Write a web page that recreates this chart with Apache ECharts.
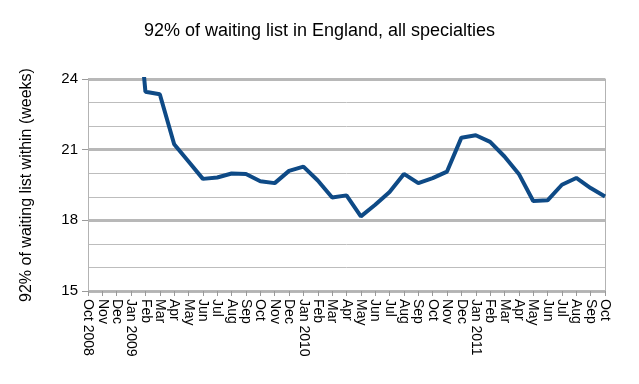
<!DOCTYPE html>
<html>
<head>
<meta charset="utf-8">
<script src="https://cdn.jsdelivr.net/npm/echarts@6/dist/echarts.min.js"></script>
<style>html,body{margin:0;padding:0;background:#fff}#c{width:639px;height:384px}</style>
</head>
<body>
<div id="c"></div>
<script>
const categories = ["Oct 2008","Nov","Dec","Jan 2009","Feb","Mar","Apr","May","Jun","Jul","Aug","Sep",
  "Oct","Nov","Dec","Jan 2010","Feb","Mar","Apr","May","Jun","Jul","Aug","Sep",
  "Oct","Nov","Dec","Jan 2011","Feb","Mar","Apr","May","Jun","Jul","Aug","Sep","Oct"];
const values = [null,null,null,30.0,23.46,23.35,21.23,20.5,19.76,19.82,19.99,19.97,
  19.66,19.58,20.1,20.28,19.69,18.97,19.06,18.17,18.66,19.2,19.97,19.58,
  19.79,20.07,21.51,21.61,21.33,20.71,19.97,18.82,18.85,19.51,19.8,19.37,19.01];
const yTicks = [15,18,21,24];

const chart = echarts.init(document.getElementById('c'));
chart.setOption({
  animation:false,
  textStyle:{fontFamily:'Liberation Sans, Arial, sans-serif'},
  title:{text:'92% of waiting list in England, all specialties',left:'center',top:17,
    textStyle:{fontSize:18,fontWeight:'normal',color:'#000',fontFamily:'Liberation Sans, Arial, sans-serif'}},
  grid:{left:88,right:34,top:79,bottom:93},
  xAxis:{type:'category',data:categories,boundaryGap:false,
    axisLine:{show:true,lineStyle:{color:'#b3b3b3',width:1}},
    axisTick:{show:true,interval:0,length:5,lineStyle:{color:'#999'}},
    axisLabel:{interval:0,rotate:-90,fontSize:14,color:'#000',margin:8}},
  yAxis:[{type:'value',min:yTicks[0],max:yTicks[yTicks.length-1],interval:3,
    name:'92% of waiting list within (weeks)',nameLocation:'middle',nameGap:53,
    nameTextStyle:{fontSize:16,color:'#000'},
    axisLine:{show:true,lineStyle:{color:'#b3b3b3'}},
    axisTick:{show:true,length:6,lineStyle:{color:'#999'}},
    axisLabel:{fontSize:15,color:'#000',margin:10},
    splitLine:{show:true,lineStyle:{color:'#b8b8b8',width:3}},
    minorTick:{show:false,splitNumber:3},
    minorSplitLine:{show:true,lineStyle:{color:'#bdbdbd',width:1}}},
    {type:'value',min:15,max:24,interval:3,position:'right',
    axisLine:{show:true,lineStyle:{color:'#b3b3b3'}},axisTick:{show:false},
    axisLabel:{show:false},splitLine:{show:false}}],
  series:[{type:'line',data:values,showSymbol:false,symbol:'none',clip:true,
    lineStyle:{color:'#0e4a86',width:4},connectNulls:false}]
});
</script>
</body>
</html>
